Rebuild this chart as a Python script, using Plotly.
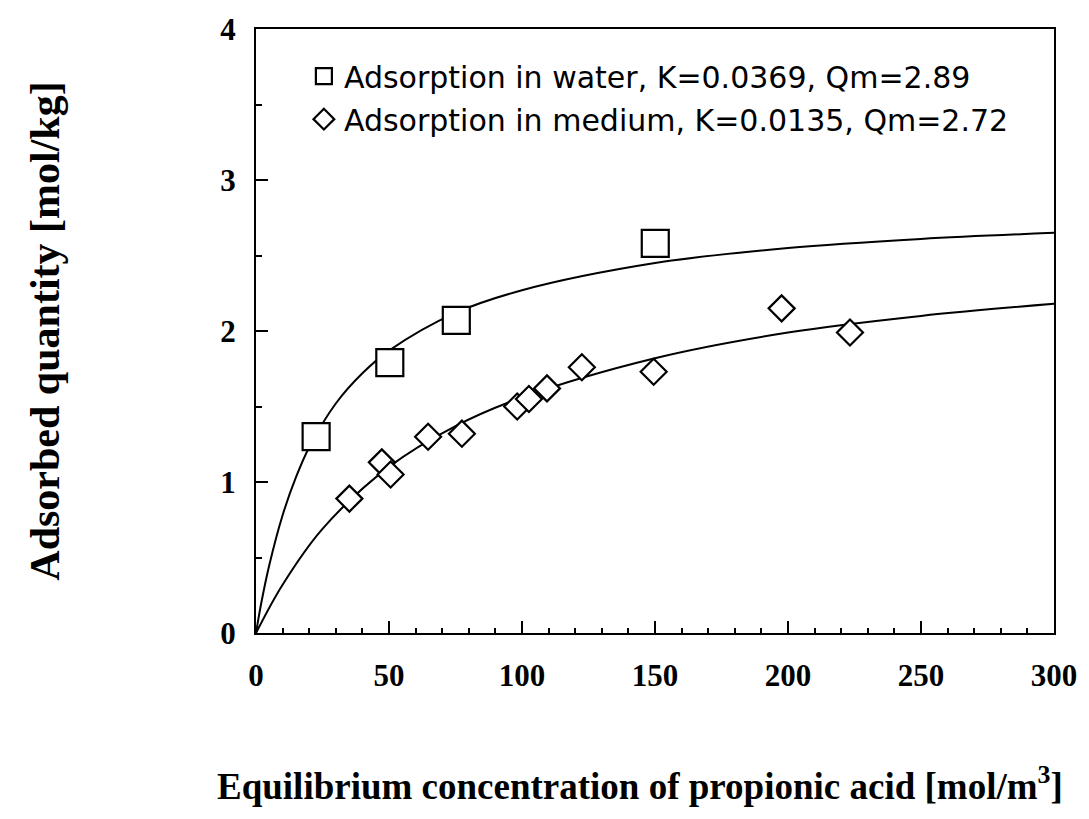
import plotly.graph_objects as go

# ---- data ----
water_x = [22.6, 50.3, 75.3, 150.1]
water_y = [1.30, 1.79, 2.07, 2.58]

medium_x = [35.1, 47.3, 50.6, 64.7, 77.4, 98.2, 102.6, 109.4, 122.5, 149.5, 197.6, 223.3]
medium_y = [0.89, 1.13, 1.05, 1.30, 1.32, 1.50, 1.55, 1.62, 1.76, 1.73, 2.15, 1.99]

# fitted Langmuir curves
water_fit_x = [0, 2, 5, 10, 15, 20, 30, 40, 50, 75, 100, 150, 200, 250, 300]
water_fit_y = [0, 0.20, 0.45, 0.78, 1.03, 1.23, 1.52, 1.72, 1.87, 2.12, 2.27, 2.45, 2.55, 2.61, 2.65]

medium_fit_x = [0, 10, 25, 50, 75, 100, 150, 200, 250, 300]
medium_fit_y = [0, 0.32, 0.69, 1.10, 1.37, 1.56, 1.82, 1.99, 2.10, 2.18]

label_water = "Adsorption in water, K=0.0369, Qm=2.89"
label_medium = "Adsorption in medium, K=0.0135, Qm=2.72"
x_title = "Equilibrium concentration of propionic acid [mol/m<sup>3</sup>]"
y_title = "Adsorbed quantity [mol/kg]"

fig = go.Figure()

fig.add_trace(go.Scatter(x=water_fit_x, y=water_fit_y, mode="lines", line=dict(color="black", width=2, shape="spline"),
                         showlegend=False, hoverinfo="skip"))
fig.add_trace(go.Scatter(x=medium_fit_x, y=medium_fit_y, mode="lines", line=dict(color="black", width=2, shape="spline"),
                         showlegend=False, hoverinfo="skip"))
fig.add_trace(go.Scatter(x=water_x, y=water_y, mode="markers", name=label_water, legendgroup="w",
                         marker=dict(symbol="square", size=27, color="white", line=dict(color="black", width=2.2))))
fig.add_trace(go.Scatter(x=medium_x, y=medium_y, mode="markers", name=label_medium, legendgroup="m",
                         marker=dict(symbol="diamond", size=20, color="white", line=dict(color="black", width=2.2))))

tick_font = dict(family="Liberation Serif", size=31, color="black", weight="bold")

fig.update_layout(
    width=1089, height=819,
    margin=dict(l=256, r=29, t=25, b=186),
    plot_bgcolor="white", paper_bgcolor="white",
    showlegend=True,
    legend=dict(x=0.06, y=0.965, xanchor="left", yanchor="top", bgcolor="rgba(0,0,0,0)",
                font=dict(family="DejaVu Sans", size=30, color="black"),
                tracegroupgap=1, itemsizing="trace"),
    xaxis=dict(range=[0, 300], tickmode="linear", tick0=0, dtick=50, ticks="inside", ticklen=12, tickwidth=2,
               tickcolor="black", showline=True, linewidth=2, linecolor="black", mirror=True,
               showgrid=False, zeroline=False, tickfont=tick_font, ticklabelstandoff=14,
               minor=dict(dtick=10, ticks="inside", ticklen=5, tickwidth=2, tickcolor="black", showgrid=False)),
    yaxis=dict(range=[0, 4], tickmode="linear", tick0=0, dtick=1, ticks="inside", ticklen=12, tickwidth=2,
               tickcolor="black", showline=True, linewidth=2, linecolor="black", mirror=True,
               showgrid=False, zeroline=False, tickfont=tick_font, ticklabelstandoff=12,
               minor=dict(dtick=0.5, ticks="inside", ticklen=6, tickwidth=2, tickcolor="black", showgrid=False),
               title=dict(text=y_title, standoff=148,
                          font=dict(family="Liberation Serif", size=42, color="black", weight="bold"))),
)

fig.add_annotation(text=x_title, xref="paper", yref="paper",
                   x=(215 - 256) / 804, y=(633 - 784) / 608, xanchor="left", yanchor="middle",
                   showarrow=False, font=dict(family="Liberation Serif", size=37, color="black", weight="bold"))

fig.write_html("out.html")
